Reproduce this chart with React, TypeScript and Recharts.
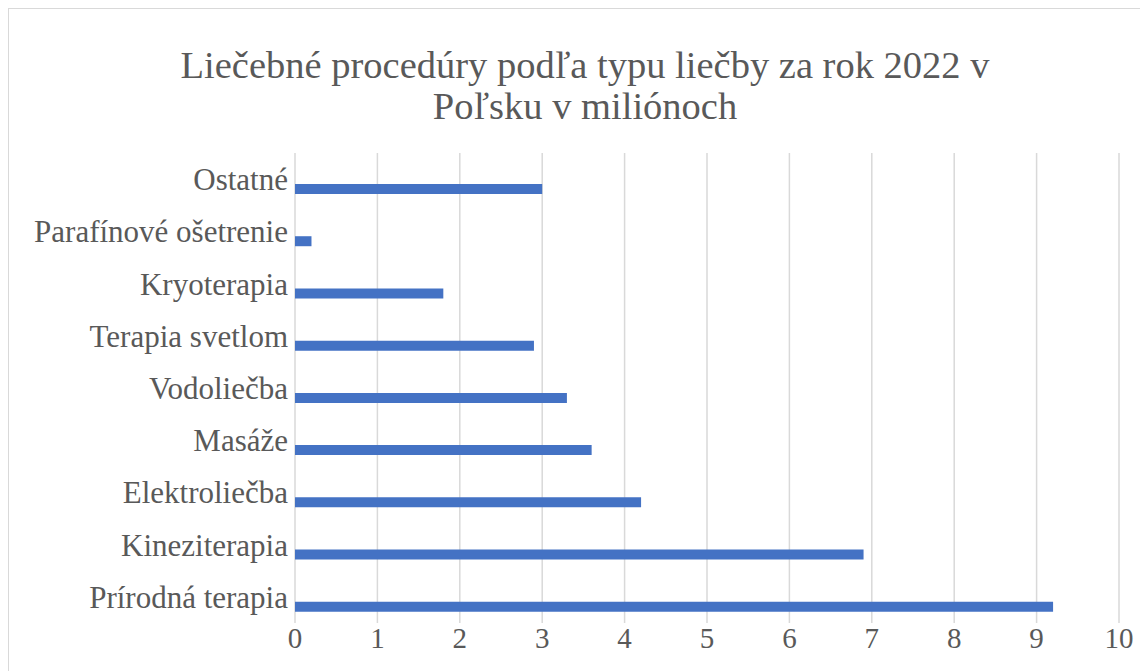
import { BarChart, Bar, XAxis, YAxis, CartesianGrid } from 'recharts'

const categories = [
  'Ostatné',
  'Parafínové ošetrenie',
  'Kryoterapia',
  'Terapia svetlom',
  'Vodoliečba',
  'Masáže',
  'Elektroliečba',
  'Kineziterapia',
  'Prírodná terapia',
]
const values = [3.0, 0.2, 1.8, 2.9, 3.3, 3.6, 4.2, 6.9, 9.2]
const xTicks = [0, 1, 2, 3, 4, 5, 6, 7, 8, 9, 10]

const titleLines = ['Liečebné procedúry podľa typu liečby za rok 2022 v', 'Poľsku v miliónoch']

const data = categories.map((name, i) => ({ name, value: values[i] }))

const FONT = '"Liberation Serif", "Times New Roman", serif'
const TEXT = '#595959'

export default function App() {
  return (
    <div
      style={{
        position: 'relative',
        width: 1140,
        height: 663,
        boxSizing: 'border-box',
        borderTop: '1px solid #d9d9d9',
        borderLeft: '1px solid #d9d9d9',
        overflow: 'hidden',
        background: '#fff',
      }}
    >
      <div
        style={{
          position: 'absolute',
          left: 0,
          top: 36,
          width: 1152,
          textAlign: 'center',
          fontFamily: FONT,
          fontSize: 38.5,
          lineHeight: '41px',
          color: TEXT,
          whiteSpace: 'nowrap',
        }}
      >
        {titleLines.map((l) => (
          <div key={l}>{l}</div>
        ))}
      </div>
      <BarChart
        width={1139}
        height={662}
        data={data}
        layout="vertical"
        margin={{ top: 144, right: 29, bottom: 0, left: 0 }}
        barSize={10}
        barGap={10}
      >
        <CartesianGrid horizontal={false} vertical stroke="#d9d9d9" strokeWidth={1.5} />
        <XAxis
          type="number"
          domain={[0, 10]}
          ticks={xTicks}
          axisLine={false}
          tickLine={false}
          tickSize={0}
          tickMargin={4}
          height={48}
          interval={0}
          tick={{ fontSize: 29, fill: TEXT, fontFamily: FONT }}
        />
        <YAxis
          type="category"
          dataKey="name"
          width={286}
          axisLine={false}
          tickLine={false}
          tickSize={0}
          tickMargin={7}
          interval={0}
          tick={{ fontSize: 31, fill: TEXT, fontFamily: FONT }}
        />
        <Bar dataKey="spacer" fill="none" isAnimationActive={false} />
        <Bar dataKey="value" fill="#4472c4" isAnimationActive={false} />
      </BarChart>
    </div>
  )
}
